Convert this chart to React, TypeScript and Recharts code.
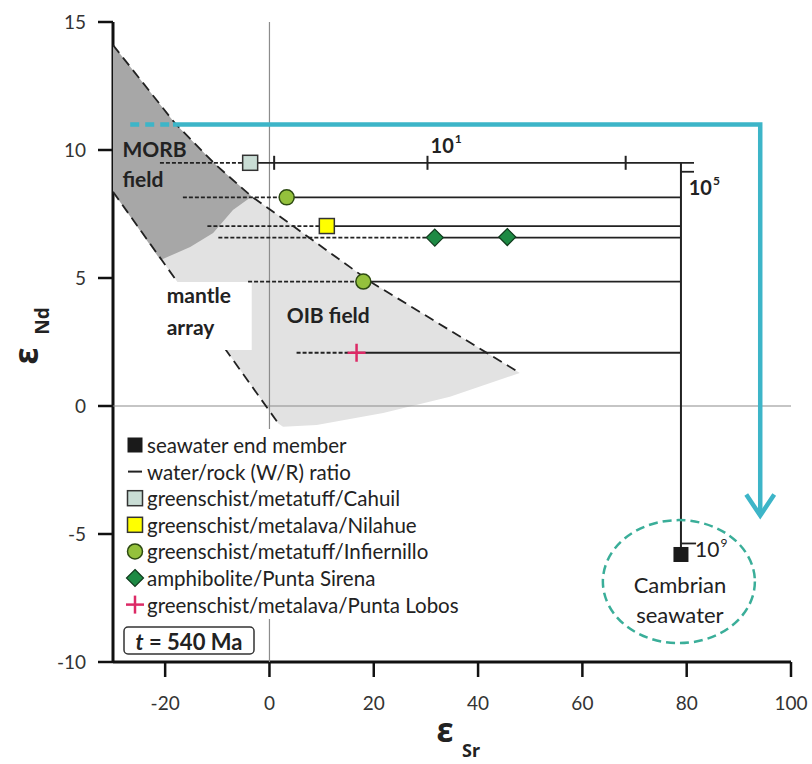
import React from "react";
import { ScatterChart, Scatter, XAxis, YAxis } from "recharts";

const xTicks = [-20, 0, 20, 40, 60, 80, 100];
const yTicks = [-10, -5, 0, 5, 10, 15];

// mantle array boundaries (εSr, εNd)
const upperBound = [
  { x: -30, y: 14.1 },
  { x: -18.1, y: 11.04 },
  { x: -10.45, y: 9.45 },
  { x: -3.4, y: 8.18 },
  { x: 2.0, y: 7.4 },
  { x: 19.3, y: 4.86 },
  { x: 48.0, y: 1.29 },
];
const lowerBound = [
  { x: -30, y: 8.37 },
  { x: 1.7, y: -0.68 },
];
const oibBase = [
  { x: 48.0, y: 1.29 },
  { x: 34.6, y: 0.36 },
  { x: 21.8, y: -0.27 },
  { x: 9.05, y: -0.74 },
  { x: 2.6, y: -0.81 },
];
const morbBase = [
  { x: -3.4, y: 8.18 },
  { x: -7.0, y: 7.66 },
  { x: -10.8, y: 6.76 },
  { x: -15.2, y: 6.21 },
  { x: -20.9, y: 5.7 },
];
const labelMask = [
  { x: -21, y: 4.84 },
  { x: -3.4, y: 4.84 },
  { x: -3.4, y: 2.19 },
  { x: -21, y: 2.19 },
];

// samples
const cahuil = [{ x: -3.7, y: 9.5 }];
const nilahue = [{ x: 11.0, y: 7.03 }];
const infiernillo = [
  { x: 3.3, y: 8.15 },
  { x: 18.0, y: 4.86 },
];
const puntaSirena = [
  { x: 31.7, y: 6.58 },
  { x: 45.6, y: 6.6 },
];
const puntaLobos = [{ x: 16.7, y: 2.08 }];
const seawater = [{ x: 78.9, y: -5.8 }];
const seawaterField = [{ x: 78.5, y: -6.86 }];

// mixing lines: dotted from start to sample, solid from sample to seawater
const mixY = [9.5, 8.15, 7.03, 6.58, 4.86, 2.08];
const mixStart = [-21, -16.6, -11.9, -9.8, -4.1, 5.2];
const mixSample = [-3.7, 3.3, 11.0, 31.7, 18.0, 16.7];
const mixEnd = [81.4, 78.9, 78.9, 78.9, 78.9, 78.9];
const wrTicks = [0.9, 30.3, 68.3];
const wrEndTick = [9.15];
const seaTick = [-5.37];

// arrow of seawater trend
const trendDash = [
  { x: -26.7, y: 11 },
  { x: -18.5, y: 11 },
];
const trend = [
  { x: -18.5, y: 11 },
  { x: 94.1, y: 11 },
  { x: 94.1, y: -4.2 },
];

const fieldLabels = [
  { x: -28.2, y: 9.74, text: "MORB" },
  { x: -28.2, y: 8.57, text: "field" },
  { x: -19.7, y: 4.02, text: "mantle" },
  { x: -19.7, y: 2.77, text: "array" },
  { x: 3.3, y: 3.25, text: "OIB field" },
];
const wrLabels = [
  { x: 30.9, y: 9.88, exp: "1" },
  { x: 80.4, y: 8.24, exp: "5" },
];
const seaRatioLabel = [{ x: 81.6, y: -5.89, exp: "9" }];
const seaLabels = [
  { x: 78.7, y: -7.29, text: "Cambrian" },
  { x: 78.7, y: -8.48, text: "seawater" },
];

const FONT = "Lato, 'Noto Sans', sans-serif";
const INK = "#222";
const C = {
  morb: "#a7a7a7",
  oib: "#e2e2e2",
  cyan: "#3db5c8",
  ellipse: "#3aae99",
  cahuil: "#c9ddd5",
  nilahue: "#ffff00",
  infiernillo: "#94c13c",
  sirena: "#1e8a44",
  lobos: "#dc2a66",
};

const seg = (x1: number, x2: number, y: number) => [
  { x: x1, y },
  { x: x2, y },
];

const none = () => <g />;

const polygon = (fill: string) => (p: any) => {
  const pts = (p.points || []) as { x: number; y: number }[];
  const d = pts.map((pt, i) => `${i ? "L" : "M"}${pt.x},${pt.y}`).join("") + "Z";
  return <path d={d} fill={fill} stroke="none" />;
};

const squareShape = (fill: string) => (p: any) => (
  <rect x={p.cx - 7.5} y={p.cy - 7.5} width={15} height={15} fill={fill} stroke="#333" strokeWidth={1.5} />
);
const circleShape = (p: any) => (
  <circle cx={p.cx} cy={p.cy} r={7.5} fill={C.infiernillo} stroke="#2d4a12" strokeWidth={1.5} />
);
const diamondShape = (p: any) => (
  <path
    d={`M${p.cx},${p.cy - 8.5}L${p.cx + 8.5},${p.cy}L${p.cx},${p.cy + 8.5}L${p.cx - 8.5},${p.cy}Z`}
    fill={C.sirena}
    stroke="#0f3b1d"
    strokeWidth={1.2}
  />
);
const crossShape = (p: any) => (
  <g stroke={C.lobos} strokeWidth={2.5}>
    <line x1={p.cx - 9} y1={p.cy} x2={p.cx + 9} y2={p.cy} />
    <line x1={p.cx} y1={p.cy - 9} x2={p.cx} y2={p.cy + 9} />
  </g>
);
const vTick = (p: any) => <line x1={p.cx} y1={p.cy - 7} x2={p.cx} y2={p.cy + 7} stroke={INK} strokeWidth={2} />;
const arrowHead = (p: any) => (
  <polyline
    points={`${p.cx - 14},${p.cy - 19} ${p.cx},${p.cy + 2} ${p.cx + 14},${p.cy - 19}`}
    fill="none"
    stroke={C.cyan}
    strokeWidth={4.5}
  />
);
const ellipseShape = (p: any) => (
  <ellipse cx={p.cx} cy={p.cy} rx={76} ry={61.5} fill="none" stroke={C.ellipse} strokeWidth={2.5} strokeDasharray="9 5" />
);
const fieldText = (p: any) => (
  <text x={p.cx} y={p.cy} fontFamily={FONT} fontWeight={700} fontSize={21} fill={INK}>
    {p.payload.text}
  </text>
);
const seaText = (p: any) => (
  <text x={p.cx} y={p.cy} fontFamily={FONT} fontSize={22} fill={INK} textAnchor="middle">
    {p.payload.text}
  </text>
);
const powerText = (bold: boolean) => (p: any) => (
  <text x={p.cx} y={p.cy} fontFamily={FONT} fontWeight={bold ? 700 : 400} fontSize={bold ? 20 : 21} fill={INK}>
    10
    <tspan fontSize={12} dy={-10} dx={1}>
      {p.payload.exp}
    </tspan>
  </text>
);

const dotted = { stroke: INK, strokeWidth: 1.8, strokeDasharray: "4 2" };
const solid = { stroke: INK, strokeWidth: 1.8 };
const boundary = { stroke: INK, strokeWidth: 1.8, strokeDasharray: "10 6" };

const legendItems = [
  { label: "seawater end member", kind: "sea" },
  { label: "water/rock (W/R) ratio", kind: "line" },
  { label: "greenschist/metatuff/Cahuil", kind: "cahuil" },
  { label: "greenschist/metalava/Nilahue", kind: "nilahue" },
  { label: "greenschist/metatuff/Infiernillo", kind: "circle" },
  { label: "amphibolite/Punta Sirena", kind: "diamond" },
  { label: "greenschist/metalava/Punta Lobos", kind: "cross" },
];

function LegendIcon({ kind, cx, cy }: { kind: string; cx: number; cy: number }) {
  const p = { cx, cy };
  if (kind === "sea") return <rect x={cx - 7.5} y={cy - 7.5} width={15} height={15} fill="#1a1a1a" />;
  if (kind === "line") return <line x1={cx - 7} x2={cx + 7} y1={cy} y2={cy} stroke={INK} strokeWidth={2} />;
  if (kind === "cahuil") return squareShape(C.cahuil)(p);
  if (kind === "nilahue") return squareShape(C.nilahue)(p);
  if (kind === "circle") return circleShape(p);
  if (kind === "diamond") return diamondShape(p);
  return crossShape(p);
}

export default function App() {
  return (
    <div style={{ position: "absolute", left: 0, top: 0, width: 812, height: 764, background: "#fff" }}>
      <ScatterChart width={812} height={764} margin={{ top: 22, right: 21, bottom: 0, left: 0 }}>
        <XAxis
          type="number"
          dataKey="x"
          domain={[-30, 100]}
          ticks={xTicks}
          interval={0}
          allowDataOverflow
          height={102}
          tickSize={15}
          tickMargin={20}
          axisLine={{ stroke: "#111", strokeWidth: 3 }}
          tickLine={{ stroke: "#111", strokeWidth: 2.5 }}
          tick={{ fill: "#333", fontSize: 19, fontFamily: FONT }}
        />
        <XAxis
          xAxisId="top"
          orientation="top"
          type="number"
          domain={[-30, 100]}
          height={0}
          tick={false}
          tickLine={false}
          axisLine={{ stroke: "#111", strokeWidth: 2.5 }}
        />
        <YAxis
          type="number"
          dataKey="y"
          domain={[-10, 15]}
          ticks={yTicks}
          interval={0}
          allowDataOverflow
          width={113}
          tickSize={15}
          tickMargin={12}
          axisLine={{ stroke: "#111", strokeWidth: 3 }}
          tickLine={{ stroke: "#111", strokeWidth: 2.5 }}
          tick={{ fill: "#333", fontSize: 19, fontFamily: FONT }}
        />
        <YAxis
          yAxisId="right"
          orientation="right"
          type="number"
          domain={[-10, 15]}
          width={0}
          tick={false}
          tickLine={false}
          axisLine={{ stroke: "#111", strokeWidth: 2.5 }}
        />

        {/* fields */}
        <Scatter
          data={[...upperBound, ...oibBase, ...[...lowerBound].reverse()]}
          line={polygon(C.oib)}
          shape={none}
          isAnimationActive={false}
        />
        <Scatter
          data={[...upperBound.slice(0, 4), ...morbBase, lowerBound[0]]}
          line={polygon(C.morb)}
          shape={none}
          isAnimationActive={false}
        />
        <Scatter data={[{ x: 0, y: -10 }, { x: 0, y: 15 }]} line={{ stroke: "#8c8c8c", strokeWidth: 1.2 }} shape={none} isAnimationActive={false} />
        <Scatter data={seg(-30, 100, 0)} line={{ stroke: "#8c8c8c", strokeWidth: 1.2 }} shape={none} isAnimationActive={false} />
        <Scatter data={upperBound} line={boundary} shape={none} isAnimationActive={false} />
        <Scatter data={lowerBound} line={boundary} shape={none} isAnimationActive={false} />
        <Scatter data={labelMask} line={polygon("#fff")} shape={none} isAnimationActive={false} />

        {/* seawater trend arrow */}
        <Scatter data={trendDash} line={{ stroke: C.cyan, strokeWidth: 4.5, strokeDasharray: "9 6" }} shape={none} isAnimationActive={false} />
        <Scatter data={trend} line={{ stroke: C.cyan, strokeWidth: 4.5 }} shape={none} isAnimationActive={false} />
        <Scatter data={trend.slice(2)} shape={arrowHead} isAnimationActive={false} />

        {/* mixing lines */}
        {mixY.map((y, i) => (
          <Scatter key={`d${i}`} data={seg(mixStart[i], mixSample[i], y)} line={dotted} shape={none} isAnimationActive={false} />
        ))}
        {mixY.map((y, i) => (
          <Scatter key={`s${i}`} data={seg(mixSample[i], mixEnd[i], y)} line={solid} shape={none} isAnimationActive={false} />
        ))}
        <Scatter
          data={[{ x: seawater[0].x, y: mixY[0] }, seawater[0]]}
          line={{ stroke: INK, strokeWidth: 2 }}
          shape={none}
          isAnimationActive={false}
        />
        <Scatter data={wrTicks.map((x) => ({ x, y: mixY[0] }))} shape={vTick} isAnimationActive={false} />
        <Scatter data={seg(seawater[0].x, 81.4, wrEndTick[0])} line={solid} shape={none} isAnimationActive={false} />
        <Scatter data={seg(seawater[0].x, 81.8, seaTick[0])} line={solid} shape={none} isAnimationActive={false} />

        {/* samples */}
        <Scatter data={cahuil} shape={squareShape(C.cahuil)} isAnimationActive={false} />
        <Scatter data={infiernillo} shape={circleShape} isAnimationActive={false} />
        <Scatter data={nilahue} shape={squareShape(C.nilahue)} isAnimationActive={false} />
        <Scatter data={puntaSirena} shape={diamondShape} isAnimationActive={false} />
        <Scatter data={puntaLobos} shape={crossShape} isAnimationActive={false} />
        <Scatter
          data={seawater}
          shape={(p: any) => <rect x={p.cx - 7.5} y={p.cy - 7.5} width={15} height={15} fill="#1a1a1a" />}
          isAnimationActive={false}
        />
        <Scatter data={seawaterField} shape={ellipseShape} isAnimationActive={false} />

        {/* annotations */}
        <Scatter data={fieldLabels} shape={fieldText} isAnimationActive={false} />
        <Scatter data={wrLabels} shape={powerText(true)} isAnimationActive={false} />
        <Scatter data={seaRatioLabel} shape={powerText(false)} isAnimationActive={false} />
        <Scatter data={seaLabels} shape={seaText} isAnimationActive={false} />
      </ScatterChart>

      <svg width={812} height={764} style={{ position: "absolute", left: 0, top: 0, pointerEvents: "none" }}>
        {/* axis titles */}
        <text
          transform="translate(25,356) rotate(-90)"
          textAnchor="middle"
          dominantBaseline="central"
          fontFamily="'Noto Sans', sans-serif"
          fontWeight={700}
          fontSize={34}
          fill={INK}
        >
          ε
        </text>
        <text
          transform="translate(42,321) rotate(-90)"
          textAnchor="middle"
          dominantBaseline="central"
          fontFamily="'Noto Sans', sans-serif"
          fontWeight={700}
          fontSize={19}
          fill={INK}
        >
          Nd
        </text>
        <text x={445} y={729} textAnchor="middle" dominantBaseline="central" fontFamily="'Noto Sans', sans-serif" fontWeight={700} fontSize={34} fill={INK}>
          ε
        </text>
        <text x={462} y={757} fontFamily="'Noto Sans', sans-serif" fontWeight={700} fontSize={18} fill={INK}>
          Sr
        </text>

        {/* legend */}
        <rect x={117} y={429} width={352} height={190} fill="#fff" />
        {legendItems.map((it, i) => {
          const cy = 445 + i * 26.6;
          return (
            <g key={it.label}>
              <LegendIcon kind={it.kind} cx={135} cy={cy} />
              <text x={147} y={cy} dominantBaseline="central" fontFamily={FONT} fontSize={20.5} fill={INK}>
                {it.label}
              </text>
            </g>
          );
        })}
        <rect x={124} y={627} width={130} height={27} rx={4} fill="#fff" stroke="#333" strokeWidth={1.5} />
        <text x={189} y={641} textAnchor="middle" dominantBaseline="central" fontFamily={FONT} fontWeight={700} fontSize={22} fill={INK}>
          <tspan fontStyle="italic">t</tspan> = 540 Ma
        </text>
      </svg>
    </div>
  );
}
